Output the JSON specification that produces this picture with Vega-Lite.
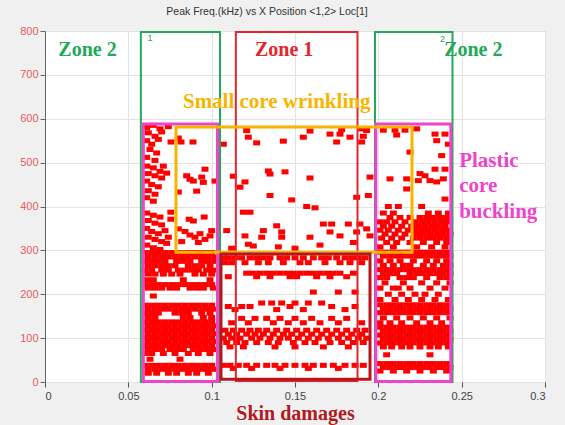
{
"$schema":"https://vega.github.io/schema/vega-lite/v6.json",
"autosize":{"type":"none"},
"width":500,"height":351,
"padding":{"left":45,"top":31,"right":20,"bottom":43},
"background":"#f0f0f0",
"title":{"text":"Peak Freq.(kHz) vs X Position <1,2> Loc[1]","fontSize":10.5,"font":"Liberation Sans","fontWeight":"normal","color":"#333333","offset":8,"dx":-28},
"config":{"view":{"fill":"white","stroke":"#9a9a9a","strokeWidth":1}},
"datasets":{
"pts":[
{"x":0.060,"y":295},{"x":0.064,"y":295},{"x":0.068,"y":295},{"x":0.072,"y":295},{"x":0.076,"y":295},{"x":0.080,"y":295},{"x":0.084,"y":295},{"x":0.088,"y":295},{"x":0.092,"y":295},{"x":0.096,"y":295},{"x":0.100,"y":295},
{"x":0.062,"y":285},{"x":0.066,"y":285},{"x":0.070,"y":285},{"x":0.074,"y":285},{"x":0.078,"y":285},{"x":0.082,"y":285},{"x":0.086,"y":285},{"x":0.090,"y":285},{"x":0.094,"y":285},{"x":0.098,"y":285},{"x":0.102,"y":285},
{"x":0.060,"y":275},{"x":0.064,"y":275},{"x":0.068,"y":275},{"x":0.072,"y":275},{"x":0.079,"y":275},{"x":0.083,"y":275},{"x":0.087,"y":275},{"x":0.094,"y":275},{"x":0.098,"y":275},{"x":0.102,"y":275},
{"x":0.062,"y":265},{"x":0.066,"y":265},{"x":0.070,"y":265},{"x":0.074,"y":265},{"x":0.078,"y":265},{"x":0.086,"y":265},{"x":0.090,"y":265},{"x":0.094,"y":265},{"x":0.099,"y":265},
{"x":0.060,"y":255},{"x":0.064,"y":255},{"x":0.070,"y":255},{"x":0.074,"y":255},{"x":0.080,"y":255},{"x":0.084,"y":255},{"x":0.088,"y":255},{"x":0.092,"y":255},{"x":0.097,"y":255},{"x":0.101,"y":255},
{"x":0.062,"y":246},{"x":0.066,"y":246},{"x":0.071,"y":246},{"x":0.076,"y":246},{"x":0.081,"y":246},{"x":0.090,"y":246},{"x":0.095,"y":246},{"x":0.100,"y":246},
{"x":0.061,"y":233},{"x":0.065,"y":233},{"x":0.083,"y":233},{"x":0.099,"y":233},
{"x":0.060,"y":222},{"x":0.064,"y":222},{"x":0.068,"y":222},{"x":0.072,"y":222},{"x":0.076,"y":222},{"x":0.080,"y":222},{"x":0.084,"y":222},{"x":0.088,"y":222},{"x":0.092,"y":222},{"x":0.096,"y":222},{"x":0.100,"y":222},
{"x":0.062,"y":214},{"x":0.066,"y":214},{"x":0.070,"y":214},{"x":0.075,"y":214},{"x":0.079,"y":214},{"x":0.087,"y":214},{"x":0.091,"y":214},{"x":0.095,"y":214},{"x":0.101,"y":214},
{"x":0.065,"y":196},
{"x":0.060,"y":175},{"x":0.064,"y":175},{"x":0.068,"y":175},{"x":0.072,"y":175},{"x":0.076,"y":175},{"x":0.080,"y":175},{"x":0.084,"y":175},{"x":0.088,"y":175},{"x":0.092,"y":175},{"x":0.096,"y":175},{"x":0.100,"y":175},
{"x":0.062,"y":166},{"x":0.066,"y":166},{"x":0.070,"y":166},{"x":0.074,"y":166},{"x":0.078,"y":166},{"x":0.082,"y":166},{"x":0.086,"y":166},{"x":0.090,"y":166},{"x":0.094,"y":166},{"x":0.098,"y":166},{"x":0.102,"y":166},
{"x":0.060,"y":157},{"x":0.064,"y":157},{"x":0.068,"y":157},{"x":0.078,"y":157},{"x":0.082,"y":157},{"x":0.086,"y":157},{"x":0.094,"y":157},{"x":0.099,"y":157},
{"x":0.062,"y":147},{"x":0.066,"y":147},{"x":0.083,"y":147},{"x":0.087,"y":147},{"x":0.095,"y":147},{"x":0.100,"y":147},
{"x":0.060,"y":137},{"x":0.064,"y":137},{"x":0.068,"y":137},{"x":0.072,"y":137},{"x":0.076,"y":137},{"x":0.080,"y":137},{"x":0.084,"y":137},{"x":0.088,"y":137},{"x":0.092,"y":137},{"x":0.096,"y":137},{"x":0.100,"y":137},
{"x":0.062,"y":128},{"x":0.066,"y":128},{"x":0.070,"y":128},{"x":0.074,"y":128},{"x":0.078,"y":128},{"x":0.082,"y":128},{"x":0.086,"y":128},{"x":0.090,"y":128},{"x":0.094,"y":128},{"x":0.098,"y":128},{"x":0.102,"y":128},
{"x":0.060,"y":119},{"x":0.064,"y":119},{"x":0.068,"y":119},{"x":0.072,"y":119},{"x":0.076,"y":119},{"x":0.080,"y":119},{"x":0.084,"y":119},{"x":0.088,"y":119},{"x":0.092,"y":119},{"x":0.096,"y":119},{"x":0.100,"y":119},
{"x":0.062,"y":110},{"x":0.066,"y":110},{"x":0.070,"y":110},{"x":0.074,"y":110},{"x":0.078,"y":110},{"x":0.082,"y":110},{"x":0.086,"y":110},{"x":0.090,"y":110},{"x":0.094,"y":110},{"x":0.098,"y":110},{"x":0.102,"y":110},
{"x":0.060,"y":101},{"x":0.064,"y":101},{"x":0.068,"y":101},{"x":0.072,"y":101},{"x":0.076,"y":101},{"x":0.080,"y":101},{"x":0.084,"y":101},{"x":0.088,"y":101},{"x":0.092,"y":101},{"x":0.096,"y":101},{"x":0.100,"y":101},
{"x":0.062,"y":92},{"x":0.066,"y":92},{"x":0.070,"y":92},{"x":0.074,"y":92},{"x":0.078,"y":92},{"x":0.082,"y":92},{"x":0.086,"y":92},{"x":0.090,"y":92},{"x":0.094,"y":92},{"x":0.098,"y":92},{"x":0.102,"y":92},
{"x":0.060,"y":83},{"x":0.064,"y":83},{"x":0.068,"y":83},{"x":0.072,"y":83},{"x":0.076,"y":83},{"x":0.080,"y":83},{"x":0.084,"y":83},{"x":0.088,"y":83},{"x":0.092,"y":83},{"x":0.096,"y":83},{"x":0.100,"y":83},
{"x":0.062,"y":74},{"x":0.066,"y":74},{"x":0.070,"y":74},{"x":0.075,"y":74},{"x":0.079,"y":74},{"x":0.083,"y":74},{"x":0.089,"y":74},{"x":0.093,"y":74},{"x":0.097,"y":74},{"x":0.101,"y":74},
{"x":0.060,"y":65},{"x":0.064,"y":65},{"x":0.071,"y":65},{"x":0.078,"y":65},{"x":0.086,"y":65},{"x":0.092,"y":65},{"x":0.099,"y":65},
{"x":0.063,"y":52},{"x":0.081,"y":52},
{"x":0.060,"y":38},{"x":0.064,"y":38},{"x":0.068,"y":38},{"x":0.072,"y":38},{"x":0.076,"y":38},{"x":0.080,"y":38},{"x":0.084,"y":38},{"x":0.088,"y":38},{"x":0.092,"y":38},{"x":0.096,"y":38},{"x":0.100,"y":38},
{"x":0.062,"y":29},{"x":0.066,"y":29},{"x":0.070,"y":29},{"x":0.074,"y":29},{"x":0.078,"y":29},{"x":0.082,"y":29},{"x":0.086,"y":29},{"x":0.090,"y":29},{"x":0.094,"y":29},{"x":0.098,"y":29},{"x":0.102,"y":29},
{"x":0.062,"y":20},{"x":0.067,"y":20},{"x":0.074,"y":20},{"x":0.079,"y":20},{"x":0.086,"y":20},{"x":0.091,"y":20},{"x":0.098,"y":20},
{"x":0.061,"y":580},{"x":0.065,"y":585},{"x":0.069,"y":577},{"x":0.062,"y":568},{"x":0.066,"y":560},{"x":0.070,"y":570},{"x":0.074,"y":582},{"x":0.061,"y":550},{"x":0.064,"y":542},{"x":0.068,"y":553},{"x":0.063,"y":530},{"x":0.067,"y":522},{"x":0.061,"y":512},{"x":0.066,"y":505},
{"x":0.0756,"y":547},{"x":0.0816,"y":547},{"x":0.0888,"y":547},{"x":0.080,"y":556},
{"x":0.061,"y":492},{"x":0.065,"y":488},{"x":0.069,"y":480},{"x":0.062,"y":475},{"x":0.066,"y":470},{"x":0.070,"y":465},{"x":0.061,"y":458},{"x":0.064,"y":450},{"x":0.068,"y":445},{"x":0.062,"y":436},{"x":0.066,"y":428},{"x":0.061,"y":420},{"x":0.065,"y":412},{"x":0.071,"y":492},{"x":0.073,"y":476},
{"x":0.085,"y":470},{"x":0.087,"y":462},{"x":0.089,"y":458},{"x":0.096,"y":485},{"x":0.094,"y":467},{"x":0.091,"y":435},{"x":0.080,"y":433},{"x":0.102,"y":458},{"x":0.095,"y":455},
{"x":0.061,"y":385},{"x":0.065,"y":380},{"x":0.069,"y":376},{"x":0.062,"y":368},{"x":0.066,"y":362},{"x":0.070,"y":358},{"x":0.061,"y":350},{"x":0.064,"y":343},{"x":0.068,"y":338},{"x":0.072,"y":345},{"x":0.062,"y":330},{"x":0.066,"y":325},{"x":0.070,"y":320},{"x":0.061,"y":312},{"x":0.065,"y":306},{"x":0.069,"y":302},{"x":0.074,"y":330},{"x":0.073,"y":316},
{"x":0.0755,"y":387},{"x":0.0755,"y":371},{"x":0.0865,"y":371},{"x":0.089,"y":367},{"x":0.0955,"y":376},{"x":0.080,"y":349},{"x":0.084,"y":343},{"x":0.087,"y":335},{"x":0.090,"y":330},{"x":0.093,"y":338},{"x":0.096,"y":325},{"x":0.099,"y":333},{"x":0.082,"y":320},{"x":0.092,"y":318},{"x":0.100,"y":345},
{"x":0.121,"y":573},{"x":0.122,"y":558},{"x":0.127,"y":545},{"x":0.143,"y":549},{"x":0.155,"y":558},{"x":0.159,"y":572},{"x":0.171,"y":565},{"x":0.177,"y":565},{"x":0.175,"y":547},{"x":0.183,"y":558},{"x":0.190,"y":577},{"x":0.190,"y":547},{"x":0.107,"y":542},{"x":0.134,"y":481},{"x":0.135,"y":474},{"x":0.144,"y":479},{"x":0.159,"y":465},{"x":0.113,"y":469},{"x":0.120,"y":456},{"x":0.117,"y":444},{"x":0.135,"y":425},{"x":0.148,"y":415},{"x":0.157,"y":400},{"x":0.162,"y":397},{"x":0.119,"y":387},{"x":0.123,"y":387},{"x":0.109,"y":345},{"x":0.120,"y":333},{"x":0.122,"y":314},{"x":0.131,"y":345},{"x":0.130,"y":330},{"x":0.139,"y":356},{"x":0.142,"y":342},{"x":0.142,"y":330},{"x":0.140,"y":308},{"x":0.159,"y":330},{"x":0.167,"y":360},{"x":0.172,"y":360},{"x":0.171,"y":342},{"x":0.177,"y":333},{"x":0.182,"y":360},{"x":0.187,"y":342},{"x":0.189,"y":360},{"x":0.193,"y":349},{"x":0.195,"y":333},{"x":0.187,"y":421},{"x":0.194,"y":425},{"x":0.195,"y":467},{"x":0.191,"y":560},{"x":0.112,"y":305},{"x":0.125,"y":310},{"x":0.150,"y":305},{"x":0.165,"y":312},{"x":0.185,"y":318},{"x":0.178,"y":575},{"x":0.193,"y":573},
{"x":0.107,"y":283},{"x":0.110,"y":283},{"x":0.114,"y":283},{"x":0.118,"y":283},{"x":0.123,"y":283},{"x":0.127,"y":283},{"x":0.131,"y":283},{"x":0.135,"y":283},{"x":0.141,"y":283},{"x":0.145,"y":283},{"x":0.150,"y":283},{"x":0.155,"y":283},{"x":0.161,"y":283},{"x":0.166,"y":283},{"x":0.170,"y":283},{"x":0.175,"y":283},{"x":0.180,"y":283},{"x":0.184,"y":283},{"x":0.188,"y":283},{"x":0.192,"y":283},
{"x":0.108,"y":272},{"x":0.112,"y":272},{"x":0.120,"y":272},{"x":0.128,"y":272},{"x":0.134,"y":272},{"x":0.143,"y":272},{"x":0.153,"y":272},{"x":0.158,"y":272},{"x":0.168,"y":272},{"x":0.177,"y":272},{"x":0.183,"y":272},{"x":0.190,"y":272},
{"x":0.121,"y":248},{"x":0.125,"y":248},{"x":0.129,"y":248},{"x":0.133,"y":248},{"x":0.137,"y":248},{"x":0.141,"y":248},{"x":0.145,"y":248},{"x":0.149,"y":248},{"x":0.153,"y":248},{"x":0.157,"y":248},{"x":0.161,"y":248},{"x":0.165,"y":248},{"x":0.169,"y":248},{"x":0.173,"y":248},{"x":0.177,"y":248},{"x":0.185,"y":248},
{"x":0.110,"y":240},{"x":0.127,"y":240},{"x":0.135,"y":240},{"x":0.147,"y":240},{"x":0.151,"y":240},{"x":0.163,"y":240},{"x":0.171,"y":240},{"x":0.181,"y":240},
{"x":0.161,"y":205},{"x":0.176,"y":205},{"x":0.186,"y":205},
{"x":0.130,"y":180},{"x":0.136,"y":180},{"x":0.142,"y":180},{"x":0.150,"y":180},{"x":0.158,"y":180},{"x":0.166,"y":180},
{"x":0.110,"y":172},{"x":0.118,"y":172},{"x":0.123,"y":172},{"x":0.147,"y":172},{"x":0.172,"y":172},{"x":0.186,"y":172},
{"x":0.114,"y":165},{"x":0.139,"y":165},{"x":0.155,"y":165},{"x":0.180,"y":165},
{"x":0.118,"y":145},{"x":0.126,"y":145},{"x":0.133,"y":145},{"x":0.141,"y":145},{"x":0.150,"y":145},{"x":0.160,"y":145},{"x":0.172,"y":145},{"x":0.181,"y":145},
{"x":0.112,"y":135},{"x":0.122,"y":135},{"x":0.137,"y":135},{"x":0.146,"y":135},{"x":0.155,"y":135},{"x":0.165,"y":135},{"x":0.176,"y":135},{"x":0.190,"y":135},
{"x":0.108,"y":118},{"x":0.113,"y":118},{"x":0.118,"y":118},{"x":0.123,"y":118},{"x":0.128,"y":118},{"x":0.133,"y":118},{"x":0.139,"y":118},{"x":0.145,"y":118},{"x":0.151,"y":118},{"x":0.157,"y":118},{"x":0.163,"y":118},{"x":0.169,"y":118},{"x":0.175,"y":118},{"x":0.181,"y":118},{"x":0.187,"y":118},{"x":0.192,"y":118},
{"x":0.110,"y":109},{"x":0.115,"y":109},{"x":0.121,"y":109},{"x":0.126,"y":109},{"x":0.131,"y":109},{"x":0.137,"y":109},{"x":0.143,"y":109},{"x":0.148,"y":109},{"x":0.154,"y":109},{"x":0.160,"y":109},{"x":0.166,"y":109},{"x":0.172,"y":109},{"x":0.178,"y":109},{"x":0.184,"y":109},{"x":0.190,"y":109},
{"x":0.107,"y":100},{"x":0.112,"y":100},{"x":0.117,"y":100},{"x":0.124,"y":100},{"x":0.129,"y":100},{"x":0.135,"y":100},{"x":0.141,"y":100},{"x":0.146,"y":100},{"x":0.152,"y":100},{"x":0.158,"y":100},{"x":0.164,"y":100},{"x":0.170,"y":100},{"x":0.176,"y":100},{"x":0.182,"y":100},{"x":0.188,"y":100},{"x":0.193,"y":100},
{"x":0.109,"y":90},{"x":0.115,"y":90},{"x":0.120,"y":90},{"x":0.127,"y":90},{"x":0.134,"y":90},{"x":0.140,"y":90},{"x":0.149,"y":90},{"x":0.156,"y":90},{"x":0.162,"y":90},{"x":0.171,"y":90},{"x":0.178,"y":90},{"x":0.185,"y":90},{"x":0.191,"y":90},
{"x":0.111,"y":80},{"x":0.119,"y":80},{"x":0.138,"y":80},{"x":0.150,"y":80},{"x":0.167,"y":80},{"x":0.182,"y":80},
{"x":0.107,"y":38},{"x":0.111,"y":38},{"x":0.116,"y":38},{"x":0.121,"y":38},{"x":0.127,"y":38},{"x":0.133,"y":38},{"x":0.138,"y":38},{"x":0.144,"y":38},{"x":0.150,"y":38},{"x":0.156,"y":38},{"x":0.161,"y":38},{"x":0.167,"y":38},{"x":0.173,"y":38},{"x":0.180,"y":38},{"x":0.186,"y":38},{"x":0.191,"y":38},
{"x":0.113,"y":31},{"x":0.124,"y":31},{"x":0.141,"y":31},{"x":0.158,"y":31},{"x":0.176,"y":31},
{"x":0.203,"y":574},{"x":0.210,"y":574},{"x":0.211,"y":563},{"x":0.216,"y":574},{"x":0.223,"y":577},{"x":0.234,"y":565},{"x":0.240,"y":565},{"x":0.235,"y":550},{"x":0.242,"y":542},{"x":0.219,"y":524},{"x":0.238,"y":516},{"x":0.234,"y":485},{"x":0.240,"y":485},{"x":0.228,"y":470},{"x":0.224,"y":459},{"x":0.231,"y":459},{"x":0.235,"y":456},{"x":0.239,"y":463},{"x":0.207,"y":463},{"x":0.217,"y":463},{"x":0.217,"y":440},{"x":0.240,"y":417},{"x":0.225,"y":475},
{"x":0.206,"y":400},{"x":0.212,"y":400},{"x":0.226,"y":400},
{"x":0.203,"y":385},{"x":0.209,"y":385},{"x":0.230,"y":385},{"x":0.236,"y":385},{"x":0.242,"y":385},
{"x":0.207,"y":375},{"x":0.213,"y":375},{"x":0.219,"y":375},{"x":0.225,"y":375},{"x":0.229,"y":375},{"x":0.233,"y":375},{"x":0.237,"y":375},{"x":0.241,"y":375},
{"x":0.201,"y":365},{"x":0.205,"y":365},{"x":0.210,"y":365},{"x":0.216,"y":365},{"x":0.222,"y":365},{"x":0.226,"y":365},{"x":0.230,"y":365},{"x":0.234,"y":365},{"x":0.238,"y":365},{"x":0.242,"y":365},
{"x":0.203,"y":355},{"x":0.208,"y":355},{"x":0.214,"y":355},{"x":0.220,"y":355},{"x":0.224,"y":355},{"x":0.228,"y":355},{"x":0.232,"y":355},{"x":0.236,"y":355},{"x":0.240,"y":355},
{"x":0.201,"y":346},{"x":0.206,"y":346},{"x":0.212,"y":346},{"x":0.218,"y":346},{"x":0.222,"y":346},{"x":0.226,"y":346},{"x":0.230,"y":346},{"x":0.234,"y":346},{"x":0.238,"y":346},{"x":0.242,"y":346},
{"x":0.204,"y":337},{"x":0.210,"y":337},{"x":0.216,"y":337},{"x":0.223,"y":337},{"x":0.227,"y":337},{"x":0.231,"y":337},{"x":0.235,"y":337},{"x":0.239,"y":337},{"x":0.243,"y":337},
{"x":0.202,"y":328},{"x":0.208,"y":328},{"x":0.214,"y":328},{"x":0.221,"y":328},{"x":0.225,"y":328},{"x":0.229,"y":328},{"x":0.233,"y":328},{"x":0.237,"y":328},{"x":0.241,"y":328},
{"x":0.205,"y":318},{"x":0.211,"y":318},{"x":0.219,"y":318},{"x":0.227,"y":318},{"x":0.235,"y":318},{"x":0.241,"y":318},
{"x":0.201,"y":308},{"x":0.209,"y":308},{"x":0.223,"y":308},{"x":0.232,"y":308},{"x":0.240,"y":308},
{"x":0.201,"y":296},{"x":0.205,"y":296},{"x":0.209,"y":296},{"x":0.213,"y":296},{"x":0.217,"y":296},{"x":0.221,"y":296},{"x":0.225,"y":296},{"x":0.229,"y":296},{"x":0.233,"y":296},{"x":0.237,"y":296},{"x":0.241,"y":296},
{"x":0.203,"y":287},{"x":0.207,"y":287},{"x":0.211,"y":287},{"x":0.215,"y":287},{"x":0.219,"y":287},{"x":0.223,"y":287},{"x":0.227,"y":287},{"x":0.231,"y":287},{"x":0.235,"y":287},{"x":0.239,"y":287},{"x":0.243,"y":287},
{"x":0.201,"y":276},{"x":0.207,"y":276},{"x":0.213,"y":276},{"x":0.221,"y":276},{"x":0.229,"y":276},{"x":0.235,"y":276},{"x":0.241,"y":276},
{"x":0.203,"y":266},{"x":0.209,"y":266},{"x":0.215,"y":266},{"x":0.219,"y":266},{"x":0.227,"y":266},{"x":0.233,"y":266},{"x":0.239,"y":266},{"x":0.243,"y":266},
{"x":0.201,"y":256},{"x":0.205,"y":256},{"x":0.209,"y":256},{"x":0.213,"y":256},{"x":0.217,"y":256},{"x":0.221,"y":256},{"x":0.225,"y":256},{"x":0.229,"y":256},{"x":0.233,"y":256},{"x":0.237,"y":256},{"x":0.241,"y":256},
{"x":0.203,"y":247},{"x":0.207,"y":247},{"x":0.211,"y":247},{"x":0.219,"y":247},{"x":0.223,"y":247},{"x":0.227,"y":247},{"x":0.231,"y":247},{"x":0.235,"y":247},{"x":0.239,"y":247},{"x":0.243,"y":247},
{"x":0.201,"y":238},{"x":0.205,"y":238},{"x":0.213,"y":238},{"x":0.217,"y":238},{"x":0.221,"y":238},{"x":0.229,"y":238},{"x":0.237,"y":238},{"x":0.241,"y":238},
{"x":0.204,"y":226},{"x":0.215,"y":226},{"x":0.226,"y":226},{"x":0.235,"y":226},{"x":0.243,"y":226},
{"x":0.201,"y":214},{"x":0.209,"y":214},{"x":0.212,"y":214},{"x":0.219,"y":214},{"x":0.231,"y":214},{"x":0.240,"y":214},
{"x":0.206,"y":200},{"x":0.214,"y":200},{"x":0.222,"y":200},{"x":0.228,"y":200},{"x":0.236,"y":200},
{"x":0.201,"y":188},{"x":0.210,"y":188},{"x":0.218,"y":188},{"x":0.226,"y":188},{"x":0.234,"y":188},{"x":0.242,"y":188},
{"x":0.201,"y":176},{"x":0.205,"y":176},{"x":0.209,"y":176},{"x":0.213,"y":176},{"x":0.217,"y":176},{"x":0.221,"y":176},{"x":0.225,"y":176},{"x":0.229,"y":176},{"x":0.233,"y":176},{"x":0.237,"y":176},{"x":0.241,"y":176},
{"x":0.203,"y":167},{"x":0.207,"y":167},{"x":0.211,"y":167},{"x":0.215,"y":167},{"x":0.219,"y":167},{"x":0.223,"y":167},{"x":0.227,"y":167},{"x":0.231,"y":167},{"x":0.235,"y":167},{"x":0.239,"y":167},{"x":0.243,"y":167},
{"x":0.201,"y":158},{"x":0.205,"y":158},{"x":0.209,"y":158},{"x":0.213,"y":158},{"x":0.217,"y":158},{"x":0.221,"y":158},{"x":0.225,"y":158},{"x":0.229,"y":158},{"x":0.233,"y":158},{"x":0.237,"y":158},{"x":0.241,"y":158},
{"x":0.203,"y":146},{"x":0.211,"y":146},{"x":0.219,"y":146},{"x":0.227,"y":146},{"x":0.235,"y":146},{"x":0.243,"y":146},
{"x":0.201,"y":135},{"x":0.207,"y":135},{"x":0.214,"y":135},{"x":0.223,"y":135},{"x":0.231,"y":135},{"x":0.238,"y":135},
{"x":0.201,"y":125},{"x":0.205,"y":125},{"x":0.209,"y":125},{"x":0.213,"y":125},{"x":0.217,"y":125},{"x":0.221,"y":125},{"x":0.225,"y":125},{"x":0.229,"y":125},{"x":0.233,"y":125},{"x":0.237,"y":125},{"x":0.241,"y":125},
{"x":0.203,"y":116},{"x":0.207,"y":116},{"x":0.211,"y":116},{"x":0.215,"y":116},{"x":0.219,"y":116},{"x":0.223,"y":116},{"x":0.227,"y":116},{"x":0.231,"y":116},{"x":0.235,"y":116},{"x":0.239,"y":116},{"x":0.243,"y":116},
{"x":0.201,"y":107},{"x":0.205,"y":107},{"x":0.209,"y":107},{"x":0.213,"y":107},{"x":0.217,"y":107},{"x":0.221,"y":107},{"x":0.225,"y":107},{"x":0.229,"y":107},{"x":0.233,"y":107},{"x":0.237,"y":107},{"x":0.241,"y":107},
{"x":0.203,"y":98},{"x":0.207,"y":98},{"x":0.211,"y":98},{"x":0.215,"y":98},{"x":0.219,"y":98},{"x":0.223,"y":98},{"x":0.227,"y":98},{"x":0.231,"y":98},{"x":0.235,"y":98},{"x":0.239,"y":98},{"x":0.243,"y":98},
{"x":0.201,"y":89},{"x":0.205,"y":89},{"x":0.209,"y":89},{"x":0.213,"y":89},{"x":0.217,"y":89},{"x":0.221,"y":89},{"x":0.225,"y":89},{"x":0.229,"y":89},{"x":0.233,"y":89},{"x":0.237,"y":89},{"x":0.241,"y":89},
{"x":0.203,"y":80},{"x":0.208,"y":80},{"x":0.214,"y":80},{"x":0.219,"y":80},{"x":0.225,"y":80},{"x":0.231,"y":80},{"x":0.236,"y":80},{"x":0.242,"y":80},
{"x":0.205,"y":62},{"x":0.231,"y":62},
{"x":0.201,"y":42},{"x":0.205,"y":42},{"x":0.209,"y":42},{"x":0.213,"y":42},{"x":0.217,"y":42},{"x":0.221,"y":42},{"x":0.225,"y":42},{"x":0.229,"y":42},{"x":0.233,"y":42},{"x":0.237,"y":42},{"x":0.241,"y":42},
{"x":0.203,"y":33},{"x":0.207,"y":33},{"x":0.211,"y":33},{"x":0.215,"y":33},{"x":0.219,"y":33},{"x":0.223,"y":33},{"x":0.227,"y":33},{"x":0.231,"y":33},{"x":0.235,"y":33},{"x":0.239,"y":33},{"x":0.243,"y":33},
{"x":0.201,"y":25},{"x":0.209,"y":25},{"x":0.217,"y":25},{"x":0.225,"y":25},{"x":0.233,"y":25},{"x":0.241,"y":25}
],
"boxes":[
{"name":"zone2","x":0.0575,"x2":0.105,"y":0,"y2":798},
{"name":"zone2","x":0.198,"x2":0.2445,"y":0,"y2":798},
{"name":"zone1","x":0.1145,"x2":0.1875,"y":2,"y2":798},
{"name":"buckling","x":0.059,"x2":0.1035,"y":1,"y2":588},
{"name":"buckling","x":0.1985,"x2":0.2435,"y":1,"y2":588},
{"name":"wrinkling","x":0.0786,"x2":0.2202,"y":296,"y2":581},
{"name":"skin","x":0.1056,"x2":0.195,"y":6,"y2":292}
],
"labs":[
{"name":"zone2","x":0.0255,"y":757,"text":"Zone 2"},
{"name":"zone1","x":0.1435,"y":757,"text":"Zone 1"},
{"name":"zone2","x":0.257,"y":757,"text":"Zone 2"}
],
"wlab":[
{"name":"wrinkling","x":0.139,"y":638,"text":"Small core wrinkling"}
],
"plab":[
{"name":"buckling","x":0.2485,"y":504,"text":"Plastic"},
{"name":"buckling","x":0.2485,"y":446,"text":"core"},
{"name":"buckling","x":0.2485,"y":388,"text":"buckling"}
],
"tags":[
{"name":"zone2","x":0.063,"y":784,"text":"1"},
{"name":"zone2","x":0.2385,"y":781,"text":"2"}
]
},
"layer":[
{"data":{"name":"pts"},
 "mark":{"type":"point","shape":"M-1.1,-0.8L1.1,-0.8L1.1,0.8L-1.1,0.8Z","filled":true,"size":40,"color":"#ff0000","opacity":1,"strokeWidth":0},
 "encoding":{
  "x":{"field":"x","type":"quantitative","scale":{"domain":[0,0.3],"nice":false,"zero":false},
   "axis":{"title":"Skin damages","values":[0,0.05,0.1,0.15,0.2,0.25,0.3],"format":".2~f","grid":true,"gridColor":"#e3e3e3","domain":false,"tickColor":"#555555","tickSize":5,"labelColor":"#444444","labelFontSize":11,"labelFont":"Liberation Sans","labelPadding":3,"titleColor":"#b01a1f","titleFont":"Liberation Serif","titleFontSize":20,"titleFontWeight":"bold","titlePadding":2}},
  "y":{"field":"y","type":"quantitative","scale":{"domain":[0,800],"nice":false},
   "axis":{"title":null,"values":[0,100,200,300,400,500,600,700,800],"grid":true,"gridColor":"#e3e3e3","domainColor":"#666666","tickColor":"#666666","tickSize":5,"labelColor":"#e85a5c","labelFontSize":11,"labelFont":"Liberation Sans","labelPadding":2}}
 }},
{"data":{"name":"boxes"},
 "transform":[{"filter":{"field":"name","oneOf":["zone2","zone1"]}}],
 "mark":{"type":"rect","filled":false,"strokeWidth":2},
 "encoding":{
  "x":{"field":"x","type":"quantitative"},"x2":{"field":"x2"},
  "y":{"field":"y","type":"quantitative"},"y2":{"field":"y2"},
  "color":{"field":"name","type":"nominal","scale":{"domain":["zone2","zone1","buckling","wrinkling","skin"],"range":["#22a95a","#e4262c","#ee44cc","#f7b500","#b8161c"]},"legend":null}
 }},
{"data":{"name":"boxes"},
 "transform":[{"filter":{"field":"name","oneOf":["buckling","wrinkling","skin"]}}],
 "mark":{"type":"rect","filled":false,"strokeWidth":3},
 "encoding":{
  "x":{"field":"x","type":"quantitative"},"x2":{"field":"x2"},
  "y":{"field":"y","type":"quantitative"},"y2":{"field":"y2"},
  "color":{"field":"name","type":"nominal","legend":null}
 }},
{"data":{"name":"labs"},
 "mark":{"type":"text","font":"Liberation Serif","fontWeight":"bold","fontSize":20,"align":"center","baseline":"middle"},
 "encoding":{
  "x":{"field":"x","type":"quantitative"},
  "y":{"field":"y","type":"quantitative"},
  "text":{"field":"text"},
  "color":{"field":"name","type":"nominal","legend":null}
 }},
{"data":{"name":"wlab"},
 "mark":{"type":"text","font":"Liberation Serif","fontWeight":"bold","fontSize":21,"align":"center","baseline":"middle"},
 "encoding":{
  "x":{"field":"x","type":"quantitative"},
  "y":{"field":"y","type":"quantitative"},
  "text":{"field":"text"},
  "color":{"field":"name","type":"nominal","legend":null}
 }},
{"data":{"name":"plab"},
 "mark":{"type":"text","font":"Liberation Serif","fontWeight":"bold","fontSize":21,"align":"left","baseline":"middle"},
 "encoding":{
  "x":{"field":"x","type":"quantitative"},
  "y":{"field":"y","type":"quantitative"},
  "text":{"field":"text"},
  "color":{"field":"name","type":"nominal","legend":null}
 }},
{"data":{"name":"tags"},
 "mark":{"type":"text","font":"Liberation Sans","fontSize":9,"align":"center","baseline":"middle"},
 "encoding":{
  "x":{"field":"x","type":"quantitative"},
  "y":{"field":"y","type":"quantitative"},
  "text":{"field":"text"},
  "color":{"field":"name","type":"nominal","legend":null}
 }}
]
}
